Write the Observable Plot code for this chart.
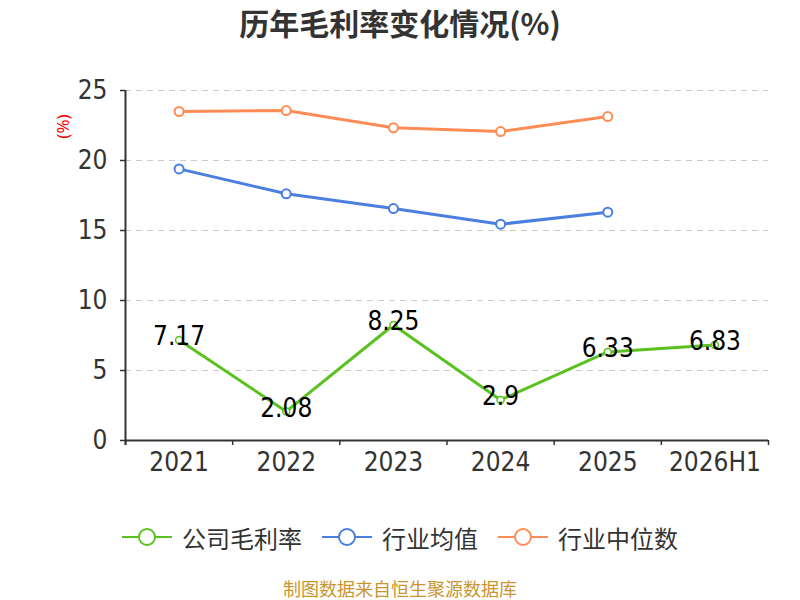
<!DOCTYPE html>
<html>
<head>
<meta charset="utf-8">
<script src="https://cdn.jsdelivr.net/npm/d3@7"></script>
<script src="https://cdn.jsdelivr.net/npm/@observablehq/plot@0.6"></script>
<style>
  body { margin: 0; width: 800px; height: 600px; position: relative; background: #fff; font-family: "Noto Sans CJK SC", "Noto Sans", sans-serif; overflow: hidden; }
  #title { height: 45px; line-height: 45px; text-align: center; font-size: 30px; font-weight: bold; color: #333; }
  #legend { position: absolute; left: 0; top: 520px; width: 800px; height: 34px; display: flex; justify-content: center; align-items: center; gap: 20px; }
  .item { display: flex; align-items: center; gap: 10px; font-size: 24px; color: #333; }
  #caption { position: absolute; left: 0; top: 577px; width: 800px; text-align: center; font-size: 18px; color: #c9952f; line-height: 22px; }
</style>
</head>
<body>
<div id="title">历年毛利率变化情况(%)</div>
<div id="chart"></div>
<div id="legend"></div>
<div id="caption">制图数据来自恒生聚源数据库</div>
<script>
const categories = ["2021", "2022", "2023", "2024", "2025", "2026H1"];
const companyMargin = [7.17, 2.08, 8.25, 2.9, 6.33, 6.83];
const industryAvg = [19.4, 17.62, 16.57, 15.45, 16.31];
const industryMedian = [23.5, 23.57, 22.34, 22.07, 23.14];
const yTicks = [0, 5, 10, 15, 20, 25];
const seriesNames = ["公司毛利率", "行业均值", "行业中位数"];
const seriesColors = ["#5ac21e", "#4a7fe0", "#ff8c55"];

const company = companyMargin.map((v, i) => ({i, v}));
const avg = industryAvg.map((v, i) => ({i, v}));
const med = industryMedian.map((v, i) => ({i, v}));
const bounds = d3.range(categories.length + 1).map(i => i - 0.5);
const numFont = "'Liberation Sans Narrow', 'DejaVu Sans Condensed', 'Noto Sans', sans-serif";

const plot = Plot.plot({
  width: 800,
  height: 435,
  marginTop: 45,
  marginBottom: 40,
  marginLeft: 125,
  marginRight: 32,
  style: {fontFamily: numFont, color: "#333", background: "transparent"},
  x: {type: "linear", domain: [-0.5, categories.length - 0.5]},
  y: {domain: [0, 25]},
  marks: [
    Plot.ruleY(yTicks.filter(d => d > 0), {stroke: "#ccc", strokeWidth: 1.2, strokeDasharray: "6,5"}),
    Plot.axisY({ticks: yTicks, tickSize: 5, tickPadding: 13, fontSize: 26, stroke: "#333", strokeWidth: 1.5, label: null, color: "#333"}),
    Plot.axisX({ticks: bounds, tickSize: 5, tickFormat: () => "", stroke: "#333", strokeWidth: 1.5, label: null}),
    Plot.axisX({ticks: d3.range(categories.length), tickSize: 0, tickPadding: 12, fontSize: 26, tickFormat: i => categories[i], label: null, color: "#333"}),
    Plot.ruleX([-0.5], {y1: -5 / 14, y2: 25, stroke: "#333", strokeWidth: 2}),
    Plot.ruleY([0], {x1: -0.5, x2: categories.length - 0.5, stroke: "#333", strokeWidth: 2}),
    Plot.text(["(%)"], {frameAnchor: "top-left", dx: -62, dy: 36, rotate: -90, fill: "red", fontSize: 17, textAnchor: "middle", lineAnchor: "middle", fontFamily: "'Noto Sans', sans-serif"}),
    Plot.line(med, {x: "i", y: "v", stroke: seriesColors[2], strokeWidth: 3}),
    Plot.dot(med, {x: "i", y: "v", r: 4.5, fill: "white", stroke: seriesColors[2], strokeWidth: 2}),
    Plot.line(avg, {x: "i", y: "v", stroke: seriesColors[1], strokeWidth: 3}),
    Plot.dot(avg, {x: "i", y: "v", r: 4.5, fill: "white", stroke: seriesColors[1], strokeWidth: 2}),
    Plot.line(company, {x: "i", y: "v", stroke: seriesColors[0], strokeWidth: 3}),
    Plot.dot(company, {x: "i", y: "v", r: 3.5, fill: "white", stroke: seriesColors[0], strokeWidth: 1.5}),
    Plot.text(company, {x: "i", y: "v", text: d => String(d.v), dy: -3, fontSize: 26, fill: "#000", textAnchor: "middle", lineAnchor: "middle"})
  ]
});
document.getElementById("chart").appendChild(plot);

const legend = document.getElementById("legend");
seriesNames.forEach((name, k) => {
  const item = document.createElement("div");
  item.className = "item";
  const c = seriesColors[k];
  item.innerHTML = `<svg width="50" height="20"><line x1="0" y1="10" x2="50" y2="10" stroke="${c}" stroke-width="2"/><circle cx="25" cy="10" r="8" fill="white" stroke="${c}" stroke-width="2"/></svg><span>${name}</span>`;
  legend.appendChild(item);
});
</script>
</body>
</html>
